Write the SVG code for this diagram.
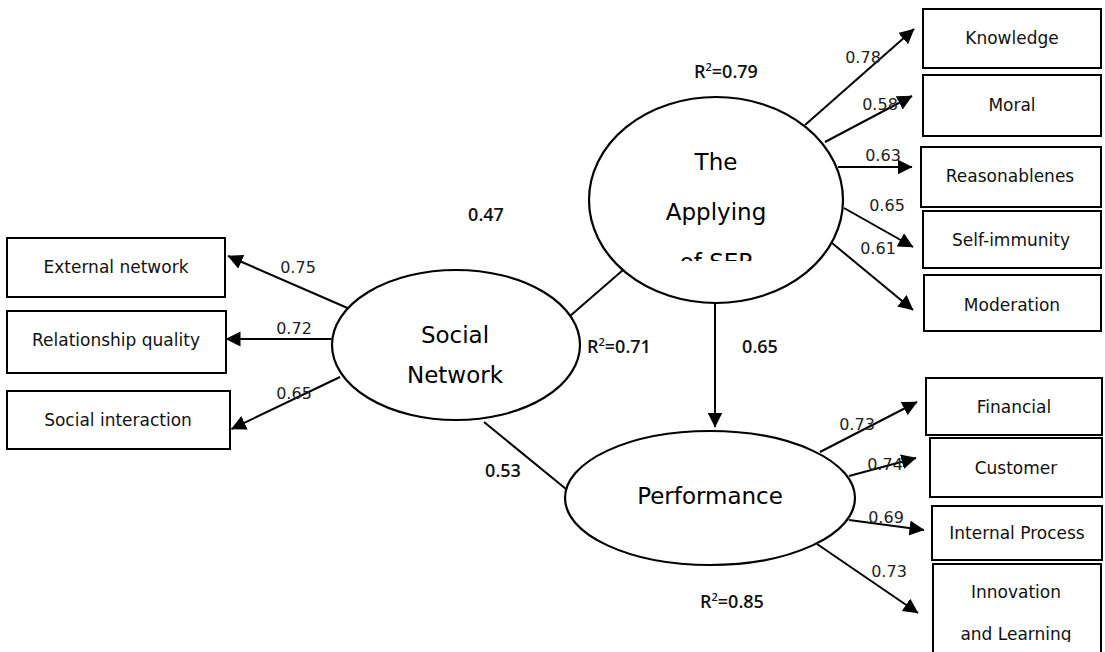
<svg xmlns="http://www.w3.org/2000/svg" width="1105" height="652" viewBox="0 0 1105 652">
<style>
.box{fill:#fff;stroke:#000;stroke-width:2}
.ell{fill:#fff;stroke:#000;stroke-width:2.2}
.bt{font-family:"DejaVu Sans",sans-serif;font-size:17px;fill:#111;text-anchor:middle}
.et{font-family:"DejaVu Sans",sans-serif;font-size:23px;fill:#000;text-anchor:middle}
.num{font-family:"DejaVu Sans",sans-serif;font-size:16px;fill:#222;text-anchor:middle}
.bn{font-family:"Open Sans","Liberation Sans",sans-serif;font-size:18px;font-weight:600;fill:#111}
.ln{stroke:#000;stroke-width:2;fill:none}
</style>
<defs>
<marker id="ah" markerWidth="16" markerHeight="16" refX="14.5" refY="7.5" orient="auto" markerUnits="userSpaceOnUse"><path d="M0,0 L15,7.5 L0,15 z" fill="#000"/></marker>
<clipPath id="clipSEP"><rect x="590" y="100" width="252" height="161"/></clipPath>
<clipPath id="clipInno"><rect x="930" y="560" width="175" height="82"/></clipPath>
</defs>

<g id="connectors">
<line class="ln" x1="347.5" y1="308" x2="228" y2="256" marker-end="url(#ah)"/>
<line class="ln" x1="331.5" y1="339" x2="226" y2="339" marker-end="url(#ah)"/>
<line class="ln" x1="340" y1="377" x2="231.5" y2="429" marker-end="url(#ah)"/>
<line class="ln" x1="570" y1="316" x2="623" y2="270"/>
<line class="ln" x1="484" y1="422" x2="566" y2="489"/>
<line class="ln" x1="715" y1="303" x2="715" y2="427" marker-end="url(#ah)"/>
<line class="ln" x1="805" y1="125" x2="914" y2="29" marker-end="url(#ah)"/>
<line class="ln" x1="825" y1="142" x2="912" y2="96" marker-end="url(#ah)"/>
<line class="ln" x1="838" y1="167" x2="912" y2="167" marker-end="url(#ah)"/>
<line class="ln" x1="844" y1="208" x2="913" y2="247" marker-end="url(#ah)"/>
<line class="ln" x1="832" y1="243" x2="913" y2="310" marker-end="url(#ah)"/>
<line class="ln" x1="820" y1="452" x2="917" y2="402" marker-end="url(#ah)"/>
<line class="ln" x1="849" y1="476" x2="916" y2="458" marker-end="url(#ah)"/>
<line class="ln" x1="849" y1="520" x2="924" y2="530" marker-end="url(#ah)"/>
<line class="ln" x1="817" y1="544" x2="918" y2="613" marker-end="url(#ah)"/>
</g>

<g id="labels">
<text class="num" x="863" y="63">0.78</text>
<text class="num" x="880" y="110">0.58</text>
<text class="num" x="883" y="161">0.63</text>
<text class="num" x="887" y="211">0.65</text>
<text class="num" x="878" y="254">0.61</text>
<text class="num" x="298" y="273">0.75</text>
<text class="num" x="294" y="334">0.72</text>
<text class="num" x="294" y="399">0.65</text>
<text class="num" x="857" y="430">0.73</text>
<text class="num" x="885" y="470">0.74</text>
<text class="num" x="886" y="523">0.69</text>
<text class="num" x="889" y="577">0.73</text>
<text class="bn" x="694" y="78">R<tspan font-size="11" dy="-7">2</tspan><tspan dy="7">=0.79</tspan></text>
<text class="bn" x="486" y="221" text-anchor="middle">0.47</text>
<text class="bn" x="587" y="353">R<tspan font-size="11" dy="-7">2</tspan><tspan dy="7">=0.71</tspan></text>
<text class="bn" x="760" y="353" text-anchor="middle">0.65</text>
<text class="bn" x="700" y="608">R<tspan font-size="11" dy="-7">2</tspan><tspan dy="7">=0.85</tspan></text>
<text class="bn" x="503" y="477" text-anchor="middle">0.53</text>
</g>

<g id="applying">
<ellipse class="ell" cx="716" cy="200" rx="127" ry="103"/>
<text class="et" x="716" y="170">The</text>
<text class="et" x="716" y="220">Applying</text>
<text class="et" x="716" y="270" clip-path="url(#clipSEP)">of SEP</text>
</g>
<g id="social">
<ellipse class="ell" cx="456" cy="345" rx="124" ry="75"/>
<text class="et" x="455" y="343">Social</text>
<text class="et" x="455" y="383">Network</text>
</g>
<g id="performance">
<ellipse class="ell" cx="710" cy="498" rx="145" ry="67"/>
<text class="et" x="710" y="504">Performance</text>
</g>

<g id="knowledge"><rect class="box" x="923" y="9" width="178" height="59"/><text class="bt" x="1012" y="44">Knowledge</text></g>
<g id="moral"><rect class="box" x="923" y="75" width="178" height="61"/><text class="bt" x="1012" y="111">Moral</text></g>
<g id="reasonableness"><rect class="box" x="921" y="147" width="180" height="60"/><text class="bt" x="1010" y="182">Reasonablenes</text></g>
<g id="selfimmunity"><rect class="box" x="923" y="211" width="178" height="57"/><text class="bt" x="1011" y="246">Self-immunity</text></g>
<g id="moderation"><rect class="box" x="924" y="275" width="177" height="56"/><text class="bt" x="1012" y="311">Moderation</text></g>
<g id="financial"><rect class="box" x="926" y="378" width="176" height="57"/><text class="bt" x="1014" y="413">Financial</text></g>
<g id="customer"><rect class="box" x="930" y="438" width="172" height="59"/><text class="bt" x="1016" y="474">Customer</text></g>
<g id="internal"><rect class="box" x="932" y="506" width="170" height="54"/><text class="bt" x="1017" y="539" font-size="15">Internal Process</text></g>
<g id="innovation"><rect class="box" x="933" y="564" width="168" height="100"/><text class="bt" x="1016" y="598">Innovation</text><text class="bt" x="1016" y="640" clip-path="url(#clipInno)">and Learning</text></g>
<g id="external"><rect class="box" x="7" y="238" width="218" height="59"/><text class="bt" x="116" y="273">External network</text></g>
<g id="relationship"><rect class="box" x="7" y="311" width="219" height="62"/><text class="bt" x="116" y="346">Relationship quality</text></g>
<g id="interaction"><rect class="box" x="7" y="391" width="223" height="58"/><text class="bt" x="118" y="426">Social interaction</text></g>
</svg>
